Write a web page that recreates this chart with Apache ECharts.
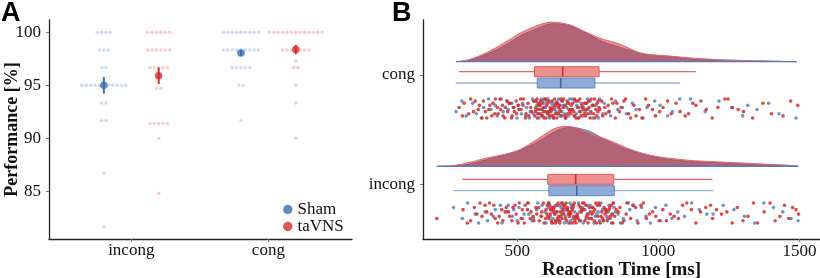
<!DOCTYPE html>
<html><head><meta charset="utf-8">
<script src="https://cdn.jsdelivr.net/npm/echarts@6/dist/echarts.min.js"></script>
<style>html,body{margin:0;padding:0;background:#fff}#c{width:820px;height:278px}</style>
</head><body><div id="c"></div>
<script>
// ---------------- Panel A data (performance per participant, %) ----------------
const perfCategories = ['incong', 'cong'];
const perfTicks = [85, 90, 95, 100];
const shamIncong = [100,100,100,100,98.33,98.33,98.33,96.67,96.67,95,95,95,95,95,95,95,95,95,95,95,93.33,93.33,91.67,91.67,86.67,81.67];
const taIncong   = [100,100,100,100,100,100,98.33,98.33,98.33,98.33,98.33,98.33,96.67,96.67,96.67,96.67,96.67,94.7,94.7,91.4,91.4,91.4,91.4,91.4,90,84.8];
const shamCong   = [100,100,100,100,100,100,100,100,100,98.33,98.33,98.33,98.33,98.33,98.33,98.33,98.33,98.33,96.67,96.67,96.67,96.67,96.67,95,95,91.67];
const taCong     = [100,100,100,100,100,100,100,100,100,100,100,100,100,98.33,98.33,98.33,98.33,98.33,98.33,98.33,97.3,96.67,96.67,95,93.33,90];
const shamMean = [95.0, 98.05];
const shamSE   = [0.78, 0.28];
const taMean   = [95.9, 98.37];
const taSE     = [0.78, 0.44];

// ---------------- Panel B data (reaction times, ms) ----------------
const rtCategories = ['incong', 'cong'];
const rtTicks = [500, 1000, 1500];
// box statistics [lower whisker, Q1, median, Q3, upper whisker]
const boxCongTa     = [294, 561, 661, 790, 1133];
const boxCongSham   = [282, 571, 654, 775, 1077];
const boxIncongTa   = [305, 608, 707, 842, 1192];
const boxIncongSham = [274, 612, 711, 844, 1195];
// density (normalised) read from the slabs
const densCongX   = [285,333,392,451,510,569,622,687,746,805,864,924,959,1042,1124,1243,1361,1490];
const densCongTa  = [0,.06,.23,.46,.71,.90,.99,.92,.73,.56,.44,.25,.19,.14,.09,.04,.02,0];
const densCongSham= [0,.04,.19,.39,.64,.83,.95,.90,.71,.49,.36,.23,.17,.13,.06,.04,.02,0];
const densIncongX   = [215,273,333,392,451,510,569,628,663,687,711,746,770,829,888,947,1006,1066,1125,1243,1361,1479,1496];
const densIncongTa  = [0,.02,.10,.21,.29,.42,.67,.93,1.0,.99,.96,.86,.79,.64,.46,.32,.23,.18,.14,.10,.06,.01,0];
const densIncongSham= [0,0,.06,.17,.28,.40,.60,.85,.95,.98,.96,.90,.83,.60,.43,.30,.21,.15,.12,.08,.05,.02,0];
// trial reaction times (estimated from the clouds)
const rtCongSham = [283,304,319,342,355,373,381,398,407,422,429,443,450,463,468,481,486,499,503,515,519,530,533,543,546,554,557,563,565,570,
572,576,577,582,585,586,590,593,594,599,600,604,607,608,613,614,619,621,622,627,628,633,634,638,641,642,646,647,651,653,
657,658,664,667,670,675,678,681,686,688,694,695,701,704,709,711,717,718,725,727,732,735,741,742,749,751,758,760,768,772,
779,788,792,803,808,824,831,848,856,873,887,908,921,946,960,987,1006,1033,1050,1076,1114,1166,1215,1260,1299,1317,1350,1391,1428,1488];
const rtCongTa = [294,306,312,328,335,345,351,362,366,375,380,387,392,399,403,410,414,420,423,430,432,439,441,448,450,456,458,464,466,472,474,480,482,488,490,496,498,504,506,512,514,520,522,529,531,538,541,548,551,558,
562,565,566,567,570,571,574,575,576,579,580,583,584,587,588,590,592,595,596,598,601,602,604,607,608,610,613,614,617,618,620,623,624,626,629,630,632,635,636,639,640,643,645,646,648,651,652,655,657,660,
663,664,669,670,672,677,678,682,683,687,690,691,695,696,700,703,704,708,709,713,716,717,721,722,726,729,730,734,737,738,742,745,746,750,753,754,758,761,762,766,768,771,774,775,779,782,783,786,787,790,
793,799,803,810,814,822,826,834,839,848,853,862,868,878,884,895,902,913,921,933,942,955,965,979,990,1005,1017,1033,1046,1063,1077,1095,1107,1122,1133,1151,1170,1191,1211,1236,1247,1263,1283,1302,1334,1371,1401,1442,1469,1494];
const rtIncongSham = [274,305,324,351,363,386,395,415,422,440,446,463,468,483,488,501,506,519,524,536,541,553,557,569,573,585,588,599,602,610,
613,617,619,623,627,628,633,635,640,642,645,649,651,655,658,661,664,667,671,673,677,680,683,687,689,693,697,699,704,709,
713,717,722,725,731,734,740,744,749,754,758,763,768,772,777,782,787,792,797,802,807,812,817,822,826,830,834,837,840,843,
848,857,866,876,888,899,912,925,941,956,972,990,1008,1027,1048,1069,1093,1118,1145,1172,1194,1230,1268,1305,1341,1374,1408,1441,1470,1495];
const rtIncongTa = [215,308,323,335,348,357,368,375,386,392,402,408,417,422,431,436,445,449,457,461,469,473,481,485,492,496,503,507,514,518,525,528,536,539,546,549,556,559,566,569,576,578,585,587,593,595,600,602,605,607,
609,611,612,615,617,618,621,623,624,627,629,630,633,635,636,639,641,643,645,647,648,651,653,654,657,659,661,663,665,666,669,671,673,675,677,678,681,683,685,687,689,690,693,695,697,699,701,702,704,706,
708,711,713,716,719,721,724,727,729,732,735,737,740,743,746,748,751,754,756,759,762,765,767,770,773,775,778,781,784,786,789,792,794,797,800,803,805,808,811,814,816,819,822,825,827,830,833,836,839,841,
845,851,858,864,872,878,886,893,902,910,919,928,938,947,958,968,980,991,1003,1016,1029,1042,1056,1071,1086,1101,1117,1133,1150,1168,1185,1192,1206,1224,1243,1262,1280,1300,1318,1337,1352,1375,1396,1414,1431,1447,1462,1476,1488,1497];
// vertical jitter level of each trial (0..9 within the cloud band)
const jitCongSham = "3817205946 1938475062 7150392846 2604918375 5829304716 0473825916 8362057194 4918260537 1537948206 6092731845 2740586139 9385164720";
const jitCongTa = "5172938460 8304617295 2946105837 7015382649 4690271538 1358904726 6827415093 9063728154 3481059267 0725634918 5916082743 2647391085 8039165472 1472850396 6290417385 4815263970 7358920614 0964135827 3127684059 9543072186";
const jitIncongSham = "7294051368 0583617249 4126938507 9360274815 2817495036 6049182753 3951706284 8270345196 1635820497 5402968173 0718253964 4863097521";
const jitIncongTa = "2601749385 9482036157 5317840926 0869253174 7135902648 3928461705 6740158293 1053926847 8291674530 4576083912 0342817569 6918340275 2475169083 9803521746 5126738409 3657014928 7089245316 1432896057 8264507139 0591382764";

// ---------------- styles / layout ----------------
const SERIF = 'Liberation Serif';
const BLUE = '#3d6db5', RED = '#d92b2b';
const DOT_GAP = 0.032;     // beeswarm spacing (x units)
const DODGE = 0.2;
const SLAB = 40;           // density peak height (px units of hidden axis)
const POS = {
  cong:   {base: 177.3, ta: 167.3, sham: 156, cloud: 130.5, half: 9.5},
  incong: {base: 72.7,  ta: 59.7,  sham: 48.3, cloud: 26,   half: 10}
};

function swarm(values, gx) {
  const counts = {}, seen = {};
  values.forEach(v => counts[v] = (counts[v] || 0) + 1);
  return values.map(v => {
    const n = counts[v]; const k = (seen[v] = (seen[v] || 0) + 1) - 1;
    return [gx + (k - (n - 1) / 2) * DOT_GAP, v];
  });
}
function cloud(rts, jit, p) {
  const d = jit.replace(/\s/g, '');
  return rts.map((rt, i) => [rt, p.cloud + (Number(d[i % d.length]) - 4.5) / 4.5 * p.half]);
}
function bbox(pts) {
  const xs = pts.map(p => p[0]), ys = pts.map(p => p[1]);
  return [[Math.min.apply(null, xs), Math.min.apply(null, ys)], [Math.max.apply(null, xs), Math.max.apply(null, ys)]];
}
function errSeries(means, ses, offs, color) {
  return {
    type: 'custom', xAxisIndex: 0, yAxisIndex: 0, silent: true, z: 3,
    data: means.map((m, i) => [i + 1 + offs, m, ses[i]]),
    renderItem: (params, api) => {
      const x = api.value(0), m = api.value(1), s = api.value(2);
      const a = api.coord([x, m - s]), b = api.coord([x, m + s]);
      return {type: 'line', shape: {x1: a[0], y1: a[1], x2: b[0], y2: b[1]}, style: {stroke: color, lineWidth: 2}};
    }
  };
}
function densSeries(xs, ds, base, fill, stroke) {
  return {
    type: 'custom', xAxisIndex: 1, yAxisIndex: 2, silent: true, z: 2,
    data: [[xs[0], base]],
    renderItem: (params, api) => {
      const top = xs.map((x, i) => api.coord([x, base + ds[i] * SLAB]));
      const poly = top.concat([api.coord([xs[xs.length - 1], base]), api.coord([xs[0], base])]);
      const bb = bbox(poly);
      return {type: 'group', children: [
        {type: 'polygon', shape: {points: poly, smooth: 0.3, smoothConstraint: bb}, style: {fill: fill}},
        {type: 'polyline', shape: {points: top, smooth: 0.3, smoothConstraint: bb}, style: {stroke: stroke, fill: null, lineWidth: 1}}
      ]};
    }
  };
}
function baseLine(xs, base, color) {
  return {
    type: 'custom', xAxisIndex: 1, yAxisIndex: 2, silent: true, z: 3,
    data: [[xs[0], base]],
    renderItem: (params, api) => {
      const a = api.coord([xs[0], base]), b = api.coord([xs[xs.length - 1], base]);
      return {type: 'line', shape: {x1: a[0], y1: a[1], x2: b[0], y2: b[1]}, style: {stroke: color, lineWidth: 1.3}};
    }
  };
}
function boxSeries(box, y, fill, stroke, whisk, med) {
  return {
    type: 'custom', xAxisIndex: 1, yAxisIndex: 2, silent: true, z: 3,
    data: [box],
    renderItem: (params, api) => {
      const c = [0, 1, 2, 3, 4].map(i => api.coord([api.value(i), y]));
      const h = 10;
      return {type: 'group', children: [
        {type: 'line', shape: {x1: c[0][0], y1: c[0][1], x2: c[4][0], y2: c[4][1]}, style: {stroke: whisk, lineWidth: 1.3}},
        {type: 'rect', shape: {x: c[1][0], y: c[1][1] - h / 2, width: c[3][0] - c[1][0], height: h}, style: {fill: fill, stroke: stroke, lineWidth: 1}},
        {type: 'line', shape: {x1: c[2][0], y1: c[2][1] - h / 2, x2: c[2][0], y2: c[2][1] + h / 2}, style: {stroke: med, lineWidth: 1.6}}
      ]};
    }
  };
}

const axisLine = {show: true, lineStyle: {color: '#222', width: 1.3}};
const tick = {show: true, length: 3, lineStyle: {color: '#777'}};
const lbl = {color: '#111', fontFamily: SERIF, fontSize: 17};

const option = {
  animation: false,
  textStyle: {fontFamily: SERIF},
  title: [
    {text: 'A', left: 1, top: 0, padding: 0, textStyle: {fontFamily: 'Liberation Sans', fontWeight: 'bold', fontSize: 27, color: '#000'}},
    {text: 'B', left: 392, top: 0, padding: 0, textStyle: {fontFamily: 'Liberation Sans', fontWeight: 'bold', fontSize: 27, color: '#000'}}
  ],
  legend: {
    data: ['Sham', 'taVNS'], orient: 'vertical', left: 283, top: 201, padding: 0, itemGap: 0,
    itemWidth: 9.5, itemHeight: 9.5, icon: 'circle',
    textStyle: {fontFamily: SERIF, fontSize: 17, color: '#111', lineHeight: 15.7}
  },
  grid: [
    {left: 49, right: 468, top: 20, bottom: 39, outerBoundsMode: 'none', containLabel: false},
    {left: 423, right: 0, top: 20, bottom: 39, outerBoundsMode: 'none', containLabel: false}
  ],
  xAxis: [
    {gridIndex: 0, type: 'value', min: 0.4, max: 2.61, splitLine: {show: false}, axisLine: axisLine,
     axisTick: Object.assign({customValues: [1, 2]}, tick),
     axisLabel: Object.assign({customValues: [1, 2], margin: 3, formatter: v => perfCategories[Math.round(v) - 1]}, lbl)},
    {gridIndex: 1, type: 'value', min: 166, max: 1573, splitLine: {show: false}, axisLine: axisLine,
     axisTick: Object.assign({customValues: rtTicks}, tick),
     axisLabel: Object.assign({customValues: rtTicks, margin: 4, formatter: v => String(v)}, lbl),
     name: 'Reaction Time [ms]', nameLocation: 'middle', nameGap: 22, nameMoveOverlap: false,
     nameTextStyle: {fontFamily: SERIF, fontWeight: 'bold', fontSize: 19, color: '#111'}}
  ],
  yAxis: [
    {gridIndex: 0, type: 'value', min: 80.5, max: 101.16, splitLine: {show: false}, axisLine: axisLine,
     axisTick: Object.assign({customValues: perfTicks}, tick),
     axisLabel: Object.assign({customValues: perfTicks, margin: 8}, lbl),
     name: 'Performance [%]', nameLocation: 'middle', nameGap: 28, nameMoveOverlap: false,
     nameTextStyle: {fontFamily: SERIF, fontWeight: 'bold', fontSize: 18, color: '#111'}},
    {gridIndex: 1, type: 'category', data: rtCategories, axisLine: axisLine,
     axisTick: Object.assign({alignWithLabel: true}, tick), axisLabel: Object.assign({margin: 8}, lbl)},
    {gridIndex: 1, type: 'value', min: 0, max: 219, show: false}
  ],
  series: [
    // Panel A
    {type: 'scatter', name: 'shamDots', xAxisIndex: 0, yAxisIndex: 0, silent: true, symbolSize: 3.6, z: 1,
     itemStyle: {color: '#c4d3ec'}, data: swarm(shamIncong, 1 - DODGE).concat(swarm(shamCong, 2 - DODGE))},
    {type: 'scatter', name: 'taDots', xAxisIndex: 0, yAxisIndex: 0, silent: true, symbolSize: 3.6, z: 1,
     itemStyle: {color: '#f5c0c0'}, data: swarm(taIncong, 1 + DODGE).concat(swarm(taCong, 2 + DODGE))},
    errSeries(shamMean, shamSE, -DODGE, BLUE),
    errSeries(taMean, taSE, DODGE, RED),
    {type: 'scatter', name: 'Sham', xAxisIndex: 0, yAxisIndex: 0, silent: true, symbolSize: 7.5, z: 4,
     itemStyle: {color: BLUE}, data: shamMean.map((m, i) => [i + 1 - DODGE, m])},
    {type: 'scatter', name: 'taVNS', xAxisIndex: 0, yAxisIndex: 0, silent: true, symbolSize: 7.5, z: 4,
     itemStyle: {color: RED}, data: taMean.map((m, i) => [i + 1 + DODGE, m])},
    // Panel B densities
    densSeries(densCongX, densCongSham, POS.cong.base, 'rgba(50,100,170,0.62)', '#5a84c4'),
    densSeries(densCongX, densCongTa, POS.cong.base, 'rgba(220,50,50,0.55)', '#e06a6a'),
    baseLine(densCongX, POS.cong.base, '#4f7cc2'),
    densSeries(densIncongX, densIncongSham, POS.incong.base, 'rgba(50,100,170,0.62)', '#5a84c4'),
    densSeries(densIncongX, densIncongTa, POS.incong.base, 'rgba(220,50,50,0.55)', '#e06a6a'),
    baseLine(densIncongX, POS.incong.base, '#4f7cc2'),
    // boxes
    boxSeries(boxCongTa, POS.cong.ta, '#ee9090', '#dd5a5a', '#e56565', '#c93030'),
    boxSeries(boxCongSham, POS.cong.sham, '#8eaad7', '#5f88c6', '#95b2d8', '#3c66aa'),
    boxSeries(boxIncongTa, POS.incong.ta, '#ee9090', '#dd5a5a', '#e56565', '#c93030'),
    boxSeries(boxIncongSham, POS.incong.sham, '#8eaad7', '#5f88c6', '#95b2d8', '#3c66aa'),
    // clouds
    {type: 'scatter', name: 'cloudShamCong', xAxisIndex: 1, yAxisIndex: 2, silent: true, symbolSize: 3.6, z: 2,
     itemStyle: {color: '#5b8cc0', opacity: 0.9}, data: cloud(rtCongSham, jitCongSham, POS.cong)},
    {type: 'scatter', name: 'cloudShamIncong', xAxisIndex: 1, yAxisIndex: 2, silent: true, symbolSize: 3.6, z: 2,
     itemStyle: {color: '#5b8cc0', opacity: 0.9}, data: cloud(rtIncongSham, jitIncongSham, POS.incong)},
    {type: 'scatter', name: 'cloudTaCong', xAxisIndex: 1, yAxisIndex: 2, silent: true, symbolSize: 3.6, z: 2,
     itemStyle: {color: '#d82a2a', opacity: 0.85}, data: cloud(rtCongTa, jitCongTa, POS.cong)},
    {type: 'scatter', name: 'cloudTaIncong', xAxisIndex: 1, yAxisIndex: 2, silent: true, symbolSize: 3.6, z: 2,
     itemStyle: {color: '#d82a2a', opacity: 0.85}, data: cloud(rtIncongTa, jitIncongTa, POS.incong)}
  ]
};
echarts.init(document.getElementById('c'), null, {renderer: 'canvas'}).setOption(option);
</script></body></html>
